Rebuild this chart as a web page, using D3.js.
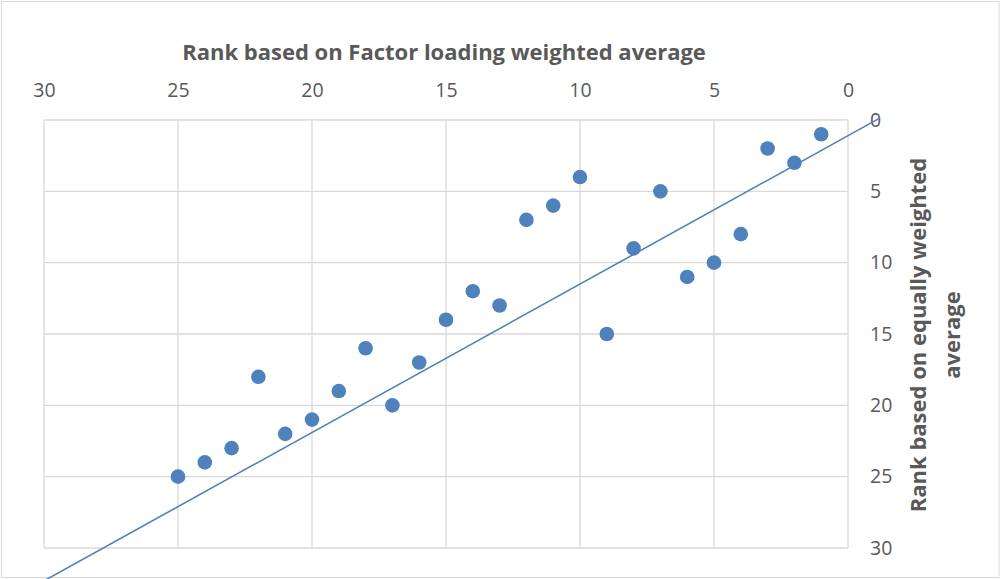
<!DOCTYPE html>
<meta charset="utf-8">
<script src="https://d3js.org/d3.v7.min.js"></script>
<style>
  body { margin: 0; background: #fff; }
  text { font-family: "Open Sans", "Noto Sans", sans-serif; fill: #595959; }
</style>
<div id="chart"></div>
<script>
// rank pairs
const factorRank = [1, 2, 3, 4, 5, 6, 7, 8, 9, 10, 11, 12, 13, 14, 15, 16, 17, 18, 19, 20, 21, 22, 23, 24, 25];
const equalRank  = [1, 3, 2, 8, 10, 11, 5, 9, 15, 4, 6, 7, 13, 12, 14, 17, 20, 16, 19, 21, 22, 18, 23, 24, 25];
const tickValues = [0, 5, 10, 15, 20, 25, 30];
// trend line as drawn (slope / intercept / x span)
const trendSlope = 1.04, trendIntercept = 1.1;
const trendSpan = [-1.2, 32];

const W = 1001, H = 579;
const margin = {top: 120, right: 153, bottom: 31, left: 44};
const width = W - margin.left - margin.right,
      height = H - margin.top - margin.bottom;

const svg = d3.select("#chart").append("svg")
    .attr("width", W).attr("height", H);

// chart frame
svg.append("rect")
    .attr("x", 1.5).attr("y", 1.5)
    .attr("width", W - 3.5).attr("height", H - 3)
    .attr("fill", "#fff").attr("stroke", "#d9d9d9");

const g = svg.append("g")
    .attr("transform", `translate(${margin.left},${margin.top})`);

const x = d3.scaleLinear().domain([30, 0]).range([0, width]);
const y = d3.scaleLinear().domain([0, 30]).range([0, height]);

// gridlines
g.append("g").selectAll("line").data(tickValues).join("line")
    .attr("x1", d => x(d)).attr("x2", d => x(d))
    .attr("y1", 0).attr("y2", height)
    .attr("stroke", "#d9d9d9").attr("stroke-width", 1.3);
g.append("g").selectAll("line").data(tickValues).join("line")
    .attr("y1", d => y(d)).attr("y2", d => y(d))
    .attr("x1", 0).attr("x2", width)
    .attr("stroke", "#d9d9d9").attr("stroke-width", 1.3);

// axes (labels only)
const xAxis = g.append("g")
    .call(d3.axisTop(x).tickValues(tickValues).tickSize(0).tickPadding(23));
xAxis.select(".domain").remove();
xAxis.selectAll("text").style("font-size", "19.5px").attr("fill", "#595959")
    .style("font-family", "'Open Sans', sans-serif");

const yAxis = g.append("g")
    .attr("transform", `translate(${width},0)`)
    .call(d3.axisRight(y).tickValues(tickValues).tickSize(0).tickPadding(22));
yAxis.select(".domain").remove();
yAxis.selectAll("text").style("font-size", "19.5px").attr("fill", "#595959")
    .style("font-family", "'Open Sans', sans-serif");

// points
const data = factorRank.map((d, i) => ({fx: d, ey: equalRank[i]}));
g.append("g").selectAll("circle").data(data).join("circle")
    .attr("cx", d => x(d.fx))
    .attr("cy", d => y(d.ey))
    .attr("r", 7.3)
    .attr("fill", "#4f81bd");

// linear trend line
svg.append("line")
    .attr("x1", margin.left + x(trendSpan[0]))
    .attr("y1", margin.top + y(trendSlope * trendSpan[0] + trendIntercept))
    .attr("x2", margin.left + x(trendSpan[1]))
    .attr("y2", margin.top + y(trendSlope * trendSpan[1] + trendIntercept))
    .attr("stroke", "#4f81bd").attr("stroke-width", 1.6);

// titles
svg.append("text")
    .attr("x", 444).attr("y", 60)
    .attr("text-anchor", "middle")
    .style("font-size", "22px").style("font-weight", "bold")
    .text("Rank based on Factor loading weighted average");

const yt = svg.append("text")
    .attr("transform", "translate(926,335) rotate(-90)")
    .attr("text-anchor", "middle")
    .style("font-size", "22px").style("font-weight", "bold");
yt.append("tspan").attr("x", 0).attr("dy", 0).text("Rank based on equally weighted");
yt.append("tspan").attr("x", 0).attr("dy", 34).text("average");
</script>
